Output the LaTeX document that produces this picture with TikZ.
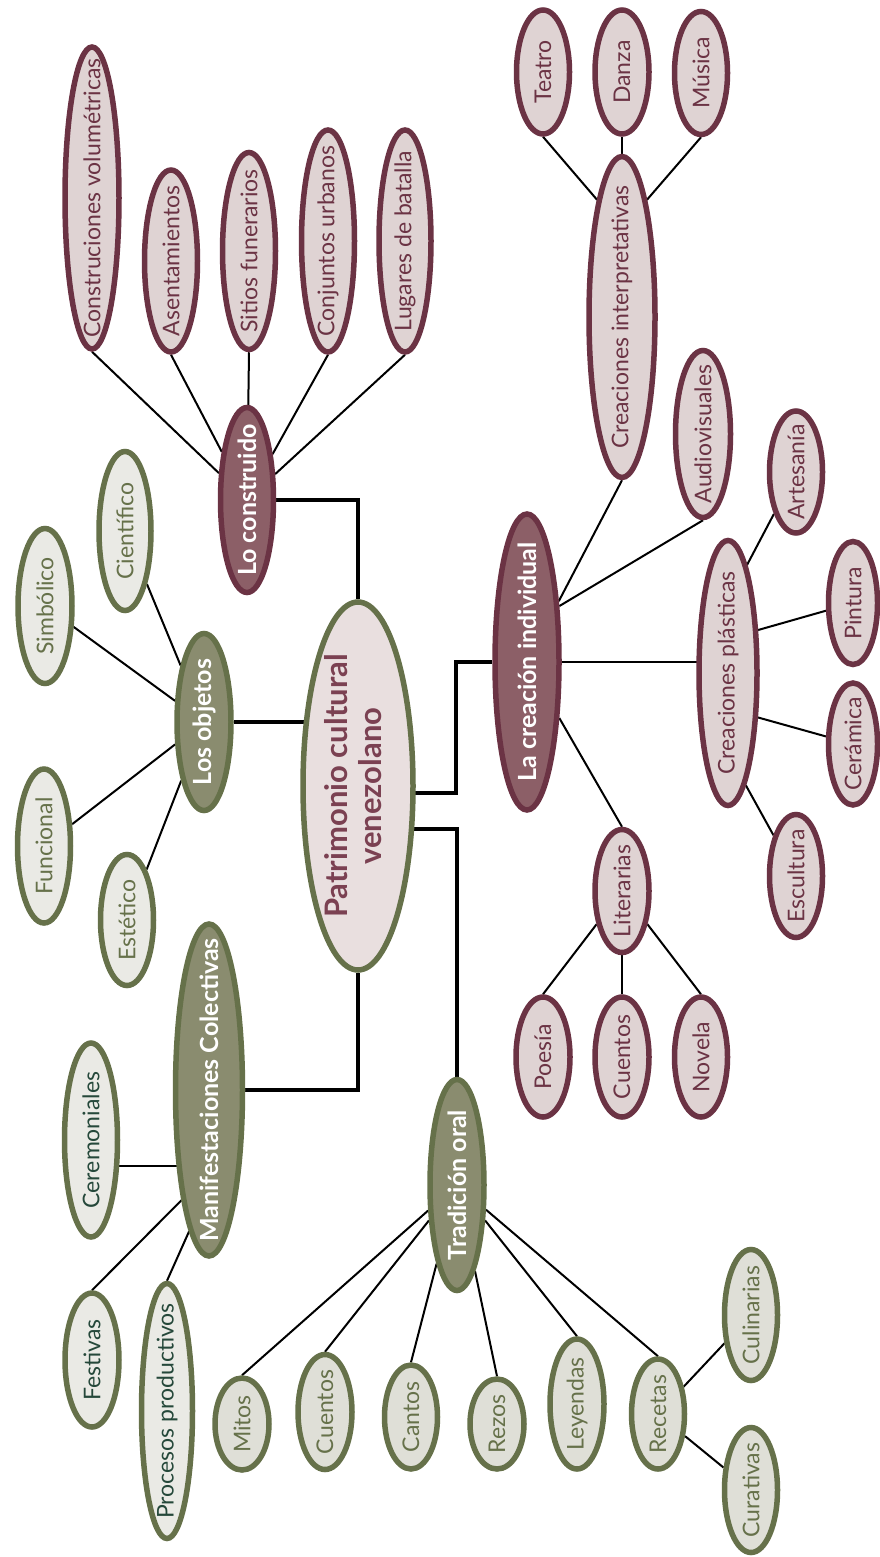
\documentclass[tikz,border=0pt]{standalone}
\usepackage{fontspec}
\setmainfont{Lato}
\usetikzlibrary{shapes.geometric,backgrounds}

\definecolor{granate}{HTML}{6B3344}
\definecolor{granatemed}{HTML}{8C5F67}
\definecolor{granateclaro}{HTML}{DFD3D3}
\definecolor{rosado}{HTML}{E9DFDF}
\definecolor{textogranate}{HTML}{7B4152}
\definecolor{oliva}{HTML}{66714A}
\definecolor{olivamed}{HTML}{8A8C6F}
\definecolor{olivaclaro}{HTML}{EAEAE5}
\definecolor{olivagris}{HTML}{DFDFD7}
\definecolor{verdeosc}{HTML}{25483A}

\tikzset{
  burbuja/.style={ellipse, rotate=90, inner sep=0pt, line width=5.5pt,
    execute at begin node={\hbox to 0pt\bgroup\hss},
    execute at end node={\hss\egroup}},
  tam/.style 2 args={minimum width=#1pt, minimum height=#2pt},
  hojag/.style={burbuja, draw=granate, fill=granateclaro, text=granate,
    font=\fontsize{23}{27}\selectfont},
  hojao/.style={burbuja, draw=oliva, fill=olivaclaro, text=oliva,
    font=\fontsize{23}{27}\selectfont},
  hojat/.style={hojao, fill=olivagris},
  hojav/.style={hojao, text=verdeosc},
  ramag/.style={burbuja, draw=granate, fill=granatemed, text=white,
    font=\bfseries\fontsize{25}{29}\selectfont},
  ramao/.style={burbuja, draw=oliva, fill=olivamed, text=white,
    font=\bfseries\fontsize{25}{29}\selectfont},
  gruesa/.style={line width=4.5pt},
  fina/.style={line width=2pt}
}

\begin{document}
\begin{tikzpicture}[x=1pt,y=-1pt]
  \useasboundingbox (0,0) rectangle (880,1557);

  % Centro
  \node[burbuja, draw=oliva, fill=rosado, text=textogranate, tam={368}{110},
    font=\bfseries\fontsize{31}{34}\selectfont] (central) at (358,786)
    {\begin{tabular}{@{}c@{}}Patrimonio cultural\\venezolano\end{tabular}};

  % Ramas principales
  \node[ramag, tam={185}{53}] (locons) at (247,500) {Lo construido};
  \node[ramag, tam={296}{64}] (lacrea) at (527,662) {La creación individual};
  \node[ramao, tam={177}{54}] (objetos) at (204,722) {Los objetos};
  \node[ramao, tam={332}{67}] (manif) at (209,1090) {Manifestaciones Colectivas};
  \node[ramao, tam={211}{54}] (trad) at (457,1185) {Tradición oral};

  % Lo construido
  \node[hojag, tam={302}{54}] (consvol) at (92,198) {Construciones volumétricas};
  \node[hojag, tam={182}{53}] (asent) at (171,261) {Asentamientos};
  \node[hojag, tam={197}{53}] (sitios) at (249,251) {Sitios funerarios};
  \node[hojag, tam={222}{53}] (conj) at (328,241) {Conjuntos urbanos};
  \node[hojag, tam={222}{52}] (lug) at (405,241) {Lugares de batalla};

  % La creación individual
  \node[hojag, tam={321}{66}] (interp) at (622,317) {Creaciones interpretativas};
  \node[hojag, tam={124}{53}] (teatro) at (543,72) {Teatro};
  \node[hojag, tam={124}{54}] (danza) at (622,72) {Danza};
  \node[hojag, tam={123}{53}] (musica) at (701,73) {Música};
  \node[hojag, tam={167}{55}] (audio) at (703,434) {Audiovisuales};
  \node[hojag, tam={265}{58}] (plast) at (728,673) {Creaciones plásticas};
  \node[hojag, tam={122}{53}] (art) at (796,472) {Artesanía};
  \node[hojag, tam={123}{49}] (pintura) at (853,603) {Pintura};
  \node[hojag, tam={122}{49}] (ceram) at (853,744) {Cerámica};
  \node[hojag, tam={123}{53}] (escul) at (796,876) {Escultura};
  \node[hojag, tam={123}{54}] (lit) at (622,891) {Literarias};
  \node[hojag, tam={120}{54}] (poesia) at (543,1057) {Poesía};
  \node[hojag, tam={120}{54}] (cuentosl) at (622,1057) {Cuentos};
  \node[hojag, tam={120}{53}] (novela) at (701,1057) {Novela};

  % Los objetos
  \node[hojao, tam={159}{52}] (cient) at (125,531) {Científico};
  \node[hojao, tam={155}{54}] (simb) at (45,606) {Simbólico};
  \node[hojao, tam={154}{53}] (func) at (44,846) {Funcional};
  \node[hojao, tam={131}{53}] (estet) at (127,920) {Estético};

  % Manifestaciones colectivas
  \node[hojav, tam={194}{53}] (cerem) at (91,1140) {Ceremoniales};
  \node[hojav, tam={134}{54}] (fest) at (92,1360) {Festivas};
  \node[hojav, tam={255}{51}] (proc) at (167,1411) {Procesos productivos};

  % Tradición oral
  \node[hojat, tam={92}{54}] (mitos) at (242,1424) {Mitos};
  \node[hojat, tam={115}{54}] (cuentos) at (325,1412) {Cuentos};
  \node[hojat, tam={104}{53}] (cantos) at (411,1417) {Cantos};
  \node[hojat, tam={90}{54}] (rezos) at (497,1424) {Rezos};
  \node[hojat, tam={130}{54}] (leyendas) at (577,1404) {Leyendas};
  \node[hojat, tam={110}{53}] (recetas) at (658,1414) {Recetas};
  \node[hojat, tam={131}{53}] (culin) at (751,1315) {Culinarias};
  \node[hojat, tam={125}{53}] (curat) at (751,1490) {Curativas};

  % Uniones
  \coordinate (jc) at (456,793);
  \coordinate (jt) at (457,829);
  \begin{scope}[on background layer]
    \draw[gruesa] (central) |- (locons);
    \draw[gruesa] (objetos) -- (objetos -| central);
    \draw[gruesa] (central |- jc) -- (jc) |- (lacrea);
    \draw[gruesa] (central |- jt) -| (trad);
    \draw[gruesa] (central) |- (manif);

    \foreach \h in {consvol,asent,sitios,conj,lug}
      \draw[fina] (locons) -- (\h.west);
    \foreach \h in {cient,simb,func,estet}
      \draw[fina] (objetos) -- (\h);
    \draw[fina] (manif.157) -- (manif.157 -| cerem);
    \draw[fina] (manif.166) -- (fest.east);
    \draw[fina] (manif.172) -- (proc.east);
    \foreach \h in {mitos,cuentos,cantos,rezos,leyendas,recetas}
      \draw[fina] (trad) -- (\h.east);
    \draw[fina] (recetas) -- (culin);
    \draw[fina] (recetas) -- (curat);

    \draw[fina] (lacrea) -- (interp.west);
    \draw[fina] (lacrea.-30) -- (audio.west);
    \draw[fina] (lacrea) -- (lit.east);
    \draw[fina] (lacrea) -- (lacrea -| plast);
    \draw[fina] (interp.12) -- (teatro.west);
    \draw[fina] (interp) -- (danza);
    \draw[fina] (interp.-12) -- (musica.west);
    \draw[fina] (plast.-10) -- (art);
    \draw[fina] (plast.-35) -- (pintura);
    \draw[fina] (plast.214) -- (ceram);
    \draw[fina] (plast.189) -- (escul);
    \foreach \h in {poesia,cuentosl,novela}
      \draw[fina] (lit) -- (\h.east);
  \end{scope}
\end{tikzpicture}
\end{document}
